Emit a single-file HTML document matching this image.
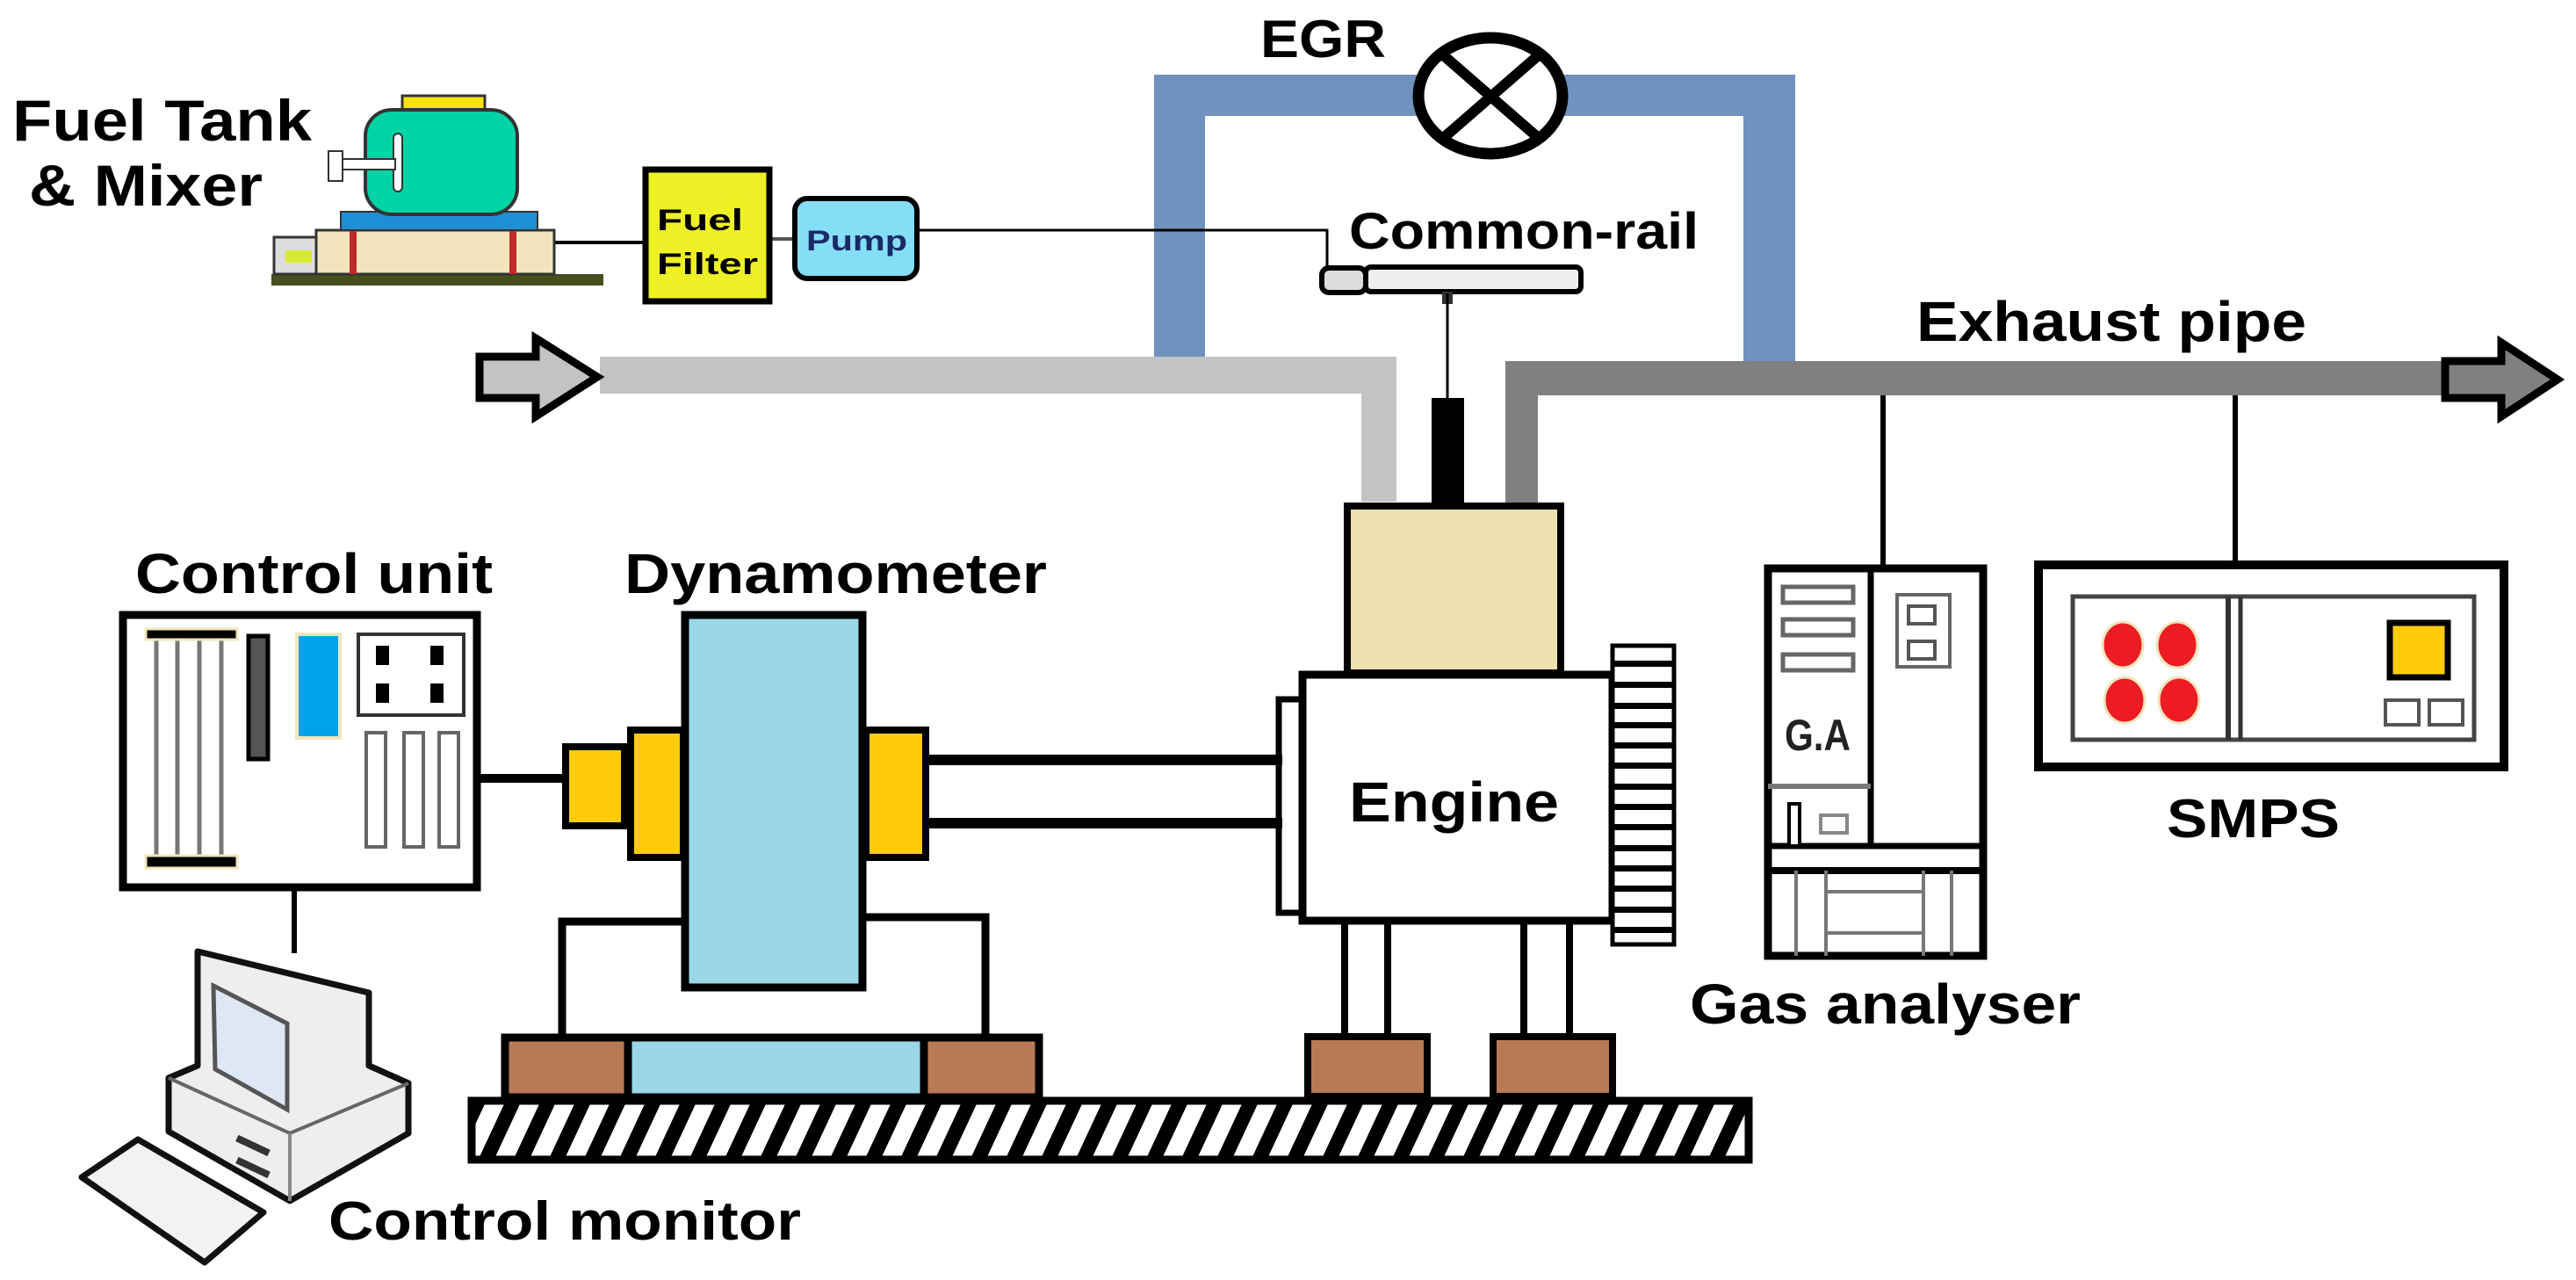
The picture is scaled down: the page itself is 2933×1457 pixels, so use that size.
<!DOCTYPE html>
<html><head><meta charset="utf-8"><style>html,body{margin:0;padding:0;background:#fff}svg{display:block}</style></head>
<body>
<svg width="2933" height="1457" viewBox="0 0 2933 1457" xmlns="http://www.w3.org/2000/svg">
<defs>
<pattern id="hatch" patternUnits="userSpaceOnUse" width="40" height="74" patternTransform="skewX(-25)">
<rect width="40" height="74" fill="#fff"/><rect width="18" height="74" fill="#000"/>
</pattern>
</defs>

<!-- EGR pipe -->
<path d="M1314 415 V85 H2044 V411 H1985 V132 H1372 V415 Z" fill="#7092be"/>
<ellipse cx="1697" cy="109" rx="82" ry="66" fill="#fff" stroke="#000" stroke-width="13"/>
<line x1="1640" y1="60" x2="1755" y2="160" stroke="#000" stroke-width="12"/>
<line x1="1755" y1="60" x2="1640" y2="160" stroke="#000" stroke-width="12"/>

<!-- intake pipe -->
<path d="M683 406 H1590 V571 H1550 V448 H683 Z" fill="#c3c3c3"/>
<path d="M546 406 H610 V385 L680 429 L610 474 V453 H546 Z" fill="#c3c3c3" stroke="#000" stroke-width="9" stroke-linejoin="miter"/>
<!-- exhaust pipe -->
<path d="M1714 573 V411 H2784 V450 H1751 V573 Z" fill="#808080"/>
<path d="M2784 411 H2848 V390 L2912 432 L2848 474 V453 H2784 Z" fill="#808080" stroke="#000" stroke-width="9"/>

<!-- fuel line -->
<polyline points="1047,262 1511,262 1511,306" fill="none" stroke="#000" stroke-width="3"/>
<line x1="631" y1="276" x2="734" y2="276" stroke="#000" stroke-width="4"/>
<line x1="879" y1="272" x2="902" y2="272" stroke="#555" stroke-width="4"/>

<!-- fuel tank -->
<rect x="309" y="312" width="378" height="13" fill="#474f1e"/>
<rect x="312" y="270" width="48" height="42" fill="#ddd" stroke="#333" stroke-width="3"/>
<rect x="325" y="285" width="30" height="14" fill="#d7ea32"/>
<rect x="360" y="262" width="271" height="50" fill="#f2e5bd" stroke="#333" stroke-width="3"/>
<rect x="398" y="262" width="8" height="50" fill="#c1272d"/>
<rect x="580" y="262" width="8" height="50" fill="#c1272d"/>
<rect x="388" y="241" width="224" height="21" fill="#1e8fd6" stroke="#333" stroke-width="2"/>
<rect x="458" y="109" width="94" height="22" fill="#f5e20f" stroke="#333" stroke-width="3"/>
<rect x="416" y="125" width="173" height="119" rx="30" fill="#00d4a6" stroke="#333" stroke-width="4"/>
<rect x="448" y="152" width="10" height="66" rx="5" fill="#fff" stroke="#333" stroke-width="2"/>
<rect x="388" y="181" width="62" height="12" fill="#fff" stroke="#333" stroke-width="2"/>
<rect x="374" y="172" width="16" height="34" fill="#fff" stroke="#333" stroke-width="2"/>

<!-- filter & pump -->
<rect x="735" y="193" width="141" height="150" fill="#eef026" stroke="#000" stroke-width="7"/>
<text x="748" y="262" font-family="Liberation Sans, sans-serif" font-weight="bold" font-size="34" textLength="98" lengthAdjust="spacingAndGlyphs">Fuel</text>
<text x="748" y="312" font-family="Liberation Sans, sans-serif" font-weight="bold" font-size="34" textLength="115" lengthAdjust="spacingAndGlyphs">Filter</text>
<rect x="905" y="226" width="139" height="91" rx="14" fill="#84def6" stroke="#000" stroke-width="6"/>
<text x="918" y="285" font-family="Liberation Sans, sans-serif" font-weight="bold" font-size="32" textLength="115" lengthAdjust="spacingAndGlyphs" fill="#1a2a66">Pump</text>

<!-- common rail -->
<rect x="1555" y="304" width="245" height="28" rx="6" fill="#eee" stroke="#000" stroke-width="6"/>
<rect x="1505" y="305" width="50" height="28" rx="8" fill="#ddd" stroke="#000" stroke-width="6"/>
<rect x="1642" y="332" width="12" height="14" fill="#333"/>
<line x1="1648" y1="334" x2="1648" y2="455" stroke="#000" stroke-width="3"/>
<rect x="1630" y="453" width="37" height="130" fill="#000"/>

<!-- engine -->
<rect x="1534" y="576" width="243" height="190" fill="#ede1b0" stroke="#000" stroke-width="8"/>
<rect x="1456" y="796" width="32" height="243" fill="#fff" stroke="#000" stroke-width="7"/>
<rect x="1483" y="768" width="353" height="280" fill="#fff" stroke="#000" stroke-width="9"/>
<g>
<rect x="1836" y="735" width="70" height="340" fill="#fff" stroke="#000" stroke-width="5"/>
<g fill="#000">
<rect x="1836" y="752" width="70" height="7"/><rect x="1836" y="776" width="70" height="7"/><rect x="1836" y="800" width="70" height="7"/><rect x="1836" y="822" width="70" height="7"/><rect x="1836" y="845" width="70" height="7"/><rect x="1836" y="868" width="70" height="7"/><rect x="1836" y="892" width="70" height="7"/><rect x="1836" y="915" width="70" height="7"/><rect x="1836" y="938" width="70" height="7"/><rect x="1836" y="962" width="70" height="7"/><rect x="1836" y="985" width="70" height="7"/><rect x="1836" y="1008" width="70" height="7"/><rect x="1836" y="1032" width="70" height="7"/><rect x="1836" y="1055" width="70" height="7"/>
</g></g>
<g stroke="#000" stroke-width="8">
<line x1="1531" y1="1049" x2="1531" y2="1180"/><line x1="1580" y1="1049" x2="1580" y2="1180"/>
<line x1="1735" y1="1049" x2="1735" y2="1180"/><line x1="1787" y1="1049" x2="1787" y2="1180"/>
</g>
<rect x="1489" y="1180" width="136" height="68" fill="#b87a55" stroke="#000" stroke-width="8"/>
<rect x="1700" y="1180" width="136" height="68" fill="#b87a55" stroke="#000" stroke-width="8"/>

<!-- ground -->
<rect x="537" y="1253" width="1454" height="67" fill="url(#hatch)" stroke="#000" stroke-width="9"/>

<!-- dyno base -->
<rect x="575" y="1181" width="608" height="68" fill="#9ad8e8" stroke="#000" stroke-width="9"/>
<rect x="575" y="1181" width="140" height="68" fill="#b87a55" stroke="#000" stroke-width="9"/>
<rect x="1052" y="1181" width="131" height="68" fill="#b87a55" stroke="#000" stroke-width="9"/>
<polyline points="640,1181 640,1049 780,1049" fill="none" stroke="#000" stroke-width="9"/>
<polyline points="982,1044 1122,1044 1122,1181" fill="none" stroke="#000" stroke-width="9"/>

<!-- shaft -->
<line x1="1057" y1="865" x2="1460" y2="865" stroke="#000" stroke-width="12"/>
<line x1="1057" y1="937" x2="1460" y2="937" stroke="#000" stroke-width="12"/>
<line x1="547" y1="886" x2="640" y2="886" stroke="#000" stroke-width="10"/>

<!-- dyno -->
<rect x="780" y="700" width="202" height="424" fill="#9ad8e8" stroke="#000" stroke-width="9"/>
<rect x="644" y="850" width="67" height="90" fill="#fecb0c" stroke="#000" stroke-width="8"/>
<rect x="718" y="831" width="60" height="145" fill="#fecb0c" stroke="#000" stroke-width="8"/>
<rect x="986" y="831" width="68" height="145" fill="#fecb0c" stroke="#000" stroke-width="8"/>

<!-- control unit -->
<rect x="140" y="700" width="403" height="310" fill="#fff" stroke="#000" stroke-width="9"/>
<g stroke="#777" stroke-width="5"><line x1="178" y1="724" x2="178" y2="980"/><line x1="202" y1="724" x2="202" y2="980"/><line x1="227" y1="724" x2="227" y2="980"/><line x1="252" y1="724" x2="252" y2="980"/></g>
<rect x="166" y="716" width="104" height="12" fill="#000" stroke="#f2e5bd" stroke-width="3"/>
<rect x="166" y="974" width="104" height="14" fill="#000" stroke="#f2e5bd" stroke-width="3"/>
<rect x="283" y="724" width="22" height="140" fill="#555" stroke="#000" stroke-width="5"/>
<rect x="338" y="722" width="49" height="118" fill="#00a2e8" stroke="#f2e5bd" stroke-width="4"/>
<rect x="408" y="722" width="120" height="92" fill="#fff" stroke="#333" stroke-width="4"/>
<rect x="428" y="735" width="15" height="22" fill="#000"/><rect x="490" y="735" width="15" height="22" fill="#000"/>
<rect x="428" y="778" width="15" height="22" fill="#000"/><rect x="490" y="778" width="15" height="22" fill="#000"/>
<rect x="417" y="834" width="22" height="130" fill="#fff" stroke="#666" stroke-width="4"/>
<rect x="460" y="834" width="22" height="130" fill="#fff" stroke="#666" stroke-width="4"/>
<rect x="500" y="834" width="22" height="130" fill="#fff" stroke="#666" stroke-width="4"/>
<line x1="335" y1="1012" x2="335" y2="1085" stroke="#000" stroke-width="6"/>

<!-- computer -->
<polygon points="225,1083 420,1130 420,1213 465,1233 465,1290 330,1367 192,1288 192,1227 225,1213" fill="#eee" stroke="#111" stroke-width="7" stroke-linejoin="round"/>
<polyline points="192,1227 330,1290 465,1233" fill="none" stroke="#666" stroke-width="4"/>
<line x1="330" y1="1290" x2="330" y2="1367" stroke="#888" stroke-width="4"/>
<polygon points="243,1122 327,1165 327,1263 245,1217" fill="#dde7f5" stroke="#555" stroke-width="5"/>
<rect x="268" y="1300" width="40" height="8" fill="#333" transform="rotate(25 288 1304)"/>
<rect x="268" y="1325" width="40" height="8" fill="#333" transform="rotate(25 288 1329)"/>
<polygon points="93,1340 157,1297 300,1380 233,1437" fill="#f2f2f2" stroke="#111" stroke-width="7" stroke-linejoin="round"/>

<!-- gas analyser -->
<line x1="2144" y1="450" x2="2144" y2="645" stroke="#000" stroke-width="6"/>
<rect x="2013" y="647" width="245" height="441" fill="#fff" stroke="#000" stroke-width="9"/>
<line x1="2130" y1="647" x2="2130" y2="966" stroke="#000" stroke-width="7"/>
<line x1="2013" y1="963" x2="2258" y2="963" stroke="#000" stroke-width="7"/>
<line x1="2013" y1="991" x2="2258" y2="991" stroke="#000" stroke-width="8"/>
<rect x="2030" y="668" width="80" height="18" fill="#fff" stroke="#666" stroke-width="5"/>
<rect x="2030" y="705" width="80" height="18" fill="#fff" stroke="#666" stroke-width="5"/>
<rect x="2030" y="745" width="80" height="18" fill="#fff" stroke="#666" stroke-width="5"/>
<rect x="2160" y="677" width="60" height="82" fill="#fff" stroke="#666" stroke-width="4"/>
<rect x="2173" y="690" width="30" height="20" fill="#fff" stroke="#555" stroke-width="4"/>
<rect x="2173" y="730" width="30" height="20" fill="#fff" stroke="#555" stroke-width="4"/>
<line x1="2013" y1="895" x2="2130" y2="895" stroke="#777" stroke-width="6"/>
<rect x="2037" y="915" width="12" height="48" fill="#fff" stroke="#000" stroke-width="4"/>
<rect x="2073" y="928" width="30" height="20" fill="#fff" stroke="#888" stroke-width="4"/>
<text x="2032" y="854" font-family="Liberation Sans, sans-serif" font-weight="bold" font-size="50" textLength="75" lengthAdjust="spacingAndGlyphs" fill="#222">G.A</text>
<g stroke="#777" stroke-width="4"><line x1="2045" y1="991" x2="2045" y2="1088"/><line x1="2079" y1="991" x2="2079" y2="1088"/><line x1="2190" y1="991" x2="2190" y2="1088"/><line x1="2222" y1="991" x2="2222" y2="1088"/><line x1="2079" y1="1015" x2="2190" y2="1015"/><line x1="2079" y1="1062" x2="2190" y2="1062"/></g>

<!-- SMPS -->
<line x1="2545" y1="450" x2="2545" y2="641" stroke="#000" stroke-width="6"/>
<rect x="2321" y="643" width="530" height="230" fill="#fff" stroke="#000" stroke-width="10"/>
<rect x="2360" y="679" width="457" height="163" fill="#fff" stroke="#444" stroke-width="5"/>
<line x1="2537" y1="679" x2="2537" y2="842" stroke="#333" stroke-width="6"/>
<line x1="2551" y1="679" x2="2551" y2="842" stroke="#333" stroke-width="5"/>
<g fill="#ed1c24" stroke="#f2e5bd" stroke-width="3">
<ellipse cx="2417" cy="734" rx="23" ry="26"/><ellipse cx="2479" cy="734" rx="23" ry="26"/>
<ellipse cx="2419" cy="797" rx="23" ry="26"/><ellipse cx="2481" cy="797" rx="23" ry="26"/>
</g>
<rect x="2721" y="709" width="66" height="62" fill="#fecb0c" stroke="#000" stroke-width="7"/>
<rect x="2716" y="797" width="38" height="28" fill="#fff" stroke="#555" stroke-width="4"/>
<rect x="2766" y="797" width="38" height="28" fill="#fff" stroke="#555" stroke-width="4"/>

<!-- labels -->
<g font-family="Liberation Sans, sans-serif" font-weight="bold" fill="#000">
<text x="14" y="160" font-size="66" textLength="341" lengthAdjust="spacingAndGlyphs">Fuel Tank</text>
<text x="33" y="234" font-size="66" textLength="266" lengthAdjust="spacingAndGlyphs">&amp; Mixer</text>
<text x="1435" y="65" font-size="60" textLength="143" lengthAdjust="spacingAndGlyphs">EGR</text>
<text x="1536" y="283" font-size="58" textLength="398" lengthAdjust="spacingAndGlyphs">Common-rail</text>
<text x="2182" y="388" font-size="64" textLength="444" lengthAdjust="spacingAndGlyphs">Exhaust pipe</text>
<text x="154" y="675" font-size="64" textLength="407" lengthAdjust="spacingAndGlyphs">Control unit</text>
<text x="711" y="675" font-size="64" textLength="481" lengthAdjust="spacingAndGlyphs">Dynamometer</text>
<text x="1536" y="935" font-size="64" textLength="239" lengthAdjust="spacingAndGlyphs">Engine</text>
<text x="2467" y="953" font-size="62" textLength="197" lengthAdjust="spacingAndGlyphs">SMPS</text>
<text x="1924" y="1165" font-size="64" textLength="445" lengthAdjust="spacingAndGlyphs">Gas analyser</text>
<text x="374" y="1411" font-size="62" textLength="538" lengthAdjust="spacingAndGlyphs">Control monitor</text>
</g>
</svg>
</body></html>
